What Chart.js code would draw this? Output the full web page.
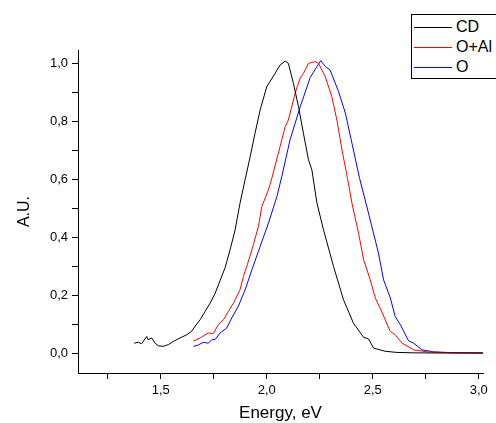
<!DOCTYPE html>
<html>
<head>
<meta charset="utf-8">
<script src="https://cdn.jsdelivr.net/npm/chart.js@4"></script>
<style>
    html, body { margin: 0; padding: 0; background: #fff; overflow: hidden; }
    #wrap { position: relative; width: 496px; height: 423px; }
    #chart { position: absolute; left: 0; top: 0; }
    .legend-box {
        position: absolute; left: 411px; top: 14px; width: 100px; height: 63px;
        border: 1px solid #000; background: #fff;
        font-family: "Liberation Sans", Arial, sans-serif; font-size: 16px; color: #000;
    }
    .legend-row { position: absolute; left: 0; height: 20px; line-height: 20px; white-space: nowrap; }
    .legend-row span.line { position: absolute; left: 2px; top: 10px; width: 38px; height: 0; border-top: 1px solid; }
    .legend-row span.txt { position: absolute; left: 44px; top: 0; }
</style>
</head>
<body>
<div id="wrap">
    <canvas id="chart" width="496" height="423"></canvas>
    <div class="legend-box" id="legend"></div>
</div>
<script>
// ====== DATA ======
const seriesNames = ['CD', 'O+Al', 'O'];
const seriesColors = ['#000000', '#ff0000', '#0000ff'];

const cdX = [1.375, 1.394, 1.410, 1.434, 1.441, 1.458, 1.473, 1.489, 1.512, 1.536, 1.560, 1.591, 1.623, 1.646, 1.662,
    1.686, 1.709, 1.733, 1.756, 1.780, 1.804, 1.827, 1.851, 1.874, 1.898, 1.922, 1.945, 1.969, 2.000, 2.040, 2.063,
    2.087, 2.102, 2.126, 2.150, 2.173, 2.197, 2.213, 2.237, 2.268, 2.315, 2.362, 2.409, 2.457, 2.480, 2.504, 2.559,
    2.614, 2.700, 2.850, 3.020];
const cdY = [0.034, 0.037, 0.032, 0.057, 0.046, 0.052, 0.034, 0.025, 0.023, 0.029, 0.040, 0.052, 0.063, 0.075, 0.092,
    0.115, 0.143, 0.172, 0.205, 0.250, 0.295, 0.356, 0.425, 0.517, 0.598, 0.678, 0.759, 0.839, 0.919, 0.966, 0.994,
    1.008, 1.000, 0.931, 0.850, 0.759, 0.667, 0.632, 0.517, 0.425, 0.299, 0.184, 0.103, 0.054, 0.049, 0.017, 0.006,
    0.002, 0.0005, 0, 0];

const oalX = [1.654, 1.686, 1.709, 1.725, 1.748, 1.772, 1.796, 1.819, 1.843, 1.874, 1.890, 1.906, 1.930, 1.961, 1.977,
    2.008, 2.024, 2.055, 2.087, 2.102, 2.134, 2.158, 2.173, 2.197, 2.229, 2.244, 2.276, 2.307, 2.331, 2.355, 2.381,
    2.402, 2.433, 2.457, 2.488, 2.512, 2.535, 2.583, 2.606, 2.638, 2.693, 2.756, 2.850, 3.020];
const oalY = [0.041, 0.052, 0.063, 0.069, 0.067, 0.098, 0.115, 0.143, 0.172, 0.218, 0.264, 0.299, 0.356, 0.437, 0.506,
    0.563, 0.603, 0.690, 0.781, 0.804, 0.897, 0.950, 0.965, 1.000, 1.006, 1.000, 0.954, 0.885, 0.804, 0.701, 0.603,
    0.517, 0.414, 0.322, 0.253, 0.190, 0.155, 0.074, 0.063, 0.034, 0.011, 0.004, 0.001, 0];

const oX = [1.654, 1.678, 1.701, 1.725, 1.741, 1.756, 1.780, 1.811, 1.835, 1.866, 1.882, 1.898, 1.930, 1.969, 2.008,
    2.048, 2.071, 2.110, 2.158, 2.205, 2.237, 2.255, 2.276, 2.299, 2.339, 2.371, 2.402, 2.438, 2.480, 2.527, 2.551,
    2.583, 2.606, 2.630, 2.669, 2.693, 2.732, 2.787, 2.880, 3.020];
const oY = [0.023, 0.028, 0.037, 0.034, 0.046, 0.046, 0.069, 0.086, 0.121, 0.161, 0.190, 0.218, 0.287, 0.368, 0.448,
    0.540, 0.609, 0.736, 0.850, 0.951, 0.989, 1.009, 0.989, 0.977, 0.902, 0.828, 0.724, 0.603, 0.483, 0.345, 0.253,
    0.190, 0.126, 0.098, 0.042, 0.034, 0.011, 0.004, 0.001, 0];

// tick positions (major ones get a label)
const xTicks = [1.25, 1.5, 1.75, 2.0, 2.25, 2.5, 2.75, 3.0];
const xLabeled = [1.5, 2.0, 2.5, 3.0];
const yTicks = [0, 0.1, 0.2, 0.3, 0.4, 0.5, 0.6, 0.7, 0.8, 0.9, 1.0];
const yLabeled = [0, 0.2, 0.4, 0.6, 0.8, 1.0];

const toPoints = (xs, ys) => xs.map((x, i) => ({ x: x, y: ys[i] }));
const commaLabel = v => v.toFixed(1).replace('.', ',');
const isIn = (list, v) => list.some(t => Math.abs(t - v) < 1e-6);

const seriesData = [toPoints(cdX, cdY), toPoints(oalX, oalY), toPoints(oX, oY)];

// ====== LEGEND (html box like the original) ======
const legendEl = document.getElementById('legend');
seriesNames.forEach((name, i) => {
    const row = document.createElement('div');
    row.className = 'legend-row';
    row.style.top = (2 + i * 20) + 'px';
    row.innerHTML = '<span class="line" style="border-top-color:' + seriesColors[i] + '"></span><span class="txt">' + name + '</span>';
    legendEl.appendChild(row);
});

// ====== CHART ======
const fontFamily = '"Liberation Sans", Arial, sans-serif';

new Chart(document.getElementById('chart'), {
    type: 'scatter',
    data: {
        datasets: seriesData.map((pts, i) => ({
            label: seriesNames[i],
            data: pts,
            showLine: true,
            borderColor: seriesColors[i],
            borderWidth: 1,
            pointRadius: 0,
            tension: 0
        }))
    },
    options: {
        responsive: false,
        animation: false,
        devicePixelRatio: 1,
        layout: { padding: { top: 50, right: 13, left: 0, bottom: 0 } },
        plugins: {
            legend: { display: false },
            tooltip: { enabled: false }
        },
        scales: {
            x: {
                type: 'linear',
                min: 1.11,
                max: 3.02,
                afterBuildTicks: axis => { axis.ticks = xTicks.map(v => ({ value: v })); },
                afterFit: axis => { axis.height = 50; },
                border: { display: true, color: '#000', width: 1 },
                grid: { drawOnChartArea: false, drawTicks: true, tickLength: 6, tickColor: '#000' },
                ticks: {
                    color: '#000', font: { family: fontFamily, size: 13 }, padding: 4, maxRotation: 0, autoSkip: false,
                    callback: v => isIn(xLabeled, v) ? commaLabel(v) : ''
                },
                title: {
                    display: true, text: 'Energy, eV', color: '#000',
                    font: { family: fontFamily, size: 17, lineHeight: 1.0 },
                    padding: { top: 0, bottom: 1 }
                }
            },
            y: {
                type: 'linear',
                min: -0.069,
                max: 1.046,
                afterBuildTicks: axis => { axis.ticks = yTicks.map(v => ({ value: v })); },
                afterFit: axis => { axis.width = 78; },
                border: { display: true, color: '#000', width: 1 },
                grid: { drawOnChartArea: false, drawTicks: true, tickLength: 6, tickColor: '#000' },
                ticks: {
                    color: '#000', font: { family: fontFamily, size: 13 }, padding: 4, autoSkip: false,
                    callback: v => isIn(yLabeled, v) ? commaLabel(v) : ''
                },
                title: {
                    display: true, text: 'A.U.', color: '#000',
                    font: { family: fontFamily, size: 16, lineHeight: 1.0 },
                    padding: { top: 17, bottom: 0 }
                }
            }
        }
    }
});
</script>
</body>
</html>
